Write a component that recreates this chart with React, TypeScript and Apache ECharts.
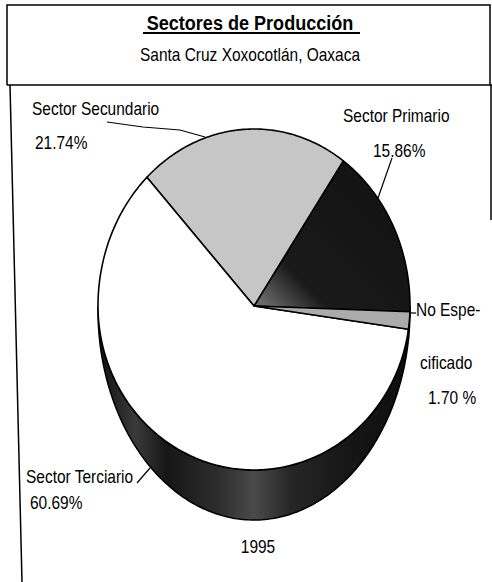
import React, { useEffect, useRef } from "react";
import * as echarts from "echarts";

// ---- data ----
const categories = ["Sector Primario", "Sector Secundario", "Sector Terciario", "No Especificado"];
const values = [15.86, 21.74, 60.69, 1.7];
const valueLabels = ["15.86%", "21.74%", "60.69%", "1.70 %"];
const nameLines = [["Sector Primario"], ["Sector Secundario"], ["Sector Terciario"], ["No Espe-", "cificado"]];
const yearLabel = "1995";
const titleText = "Sectores de Producción";
const subtitleText = "Santa Cruz Xoxocotlán, Oaxaca";

// ---- styles / layout ----
const FONT = "'Liberation Sans', Arial, sans-serif";
const NARROW = 0.86;
const CX = 254;
const CY = 306;
const RX = 156;
const RY_TOP = 177;
const RY_BOT = 164;
const SIDE_SHIFT = 4;
const SIDE_GROW = 46;
const START = -2;

const total = values.reduce((a, b) => a + b, 0);
const starts = values.map((_, i) => values.slice(0, i).reduce((a, b) => a + b, 0));

function pt(deg: number, bottom = false): number[] {
  const r = (deg * Math.PI) / 180;
  const s = Math.sin(r);
  if (bottom) return [CX + RX * Math.cos(r), CY + SIDE_SHIFT - (RY_BOT + SIDE_GROW) * s];
  return [CX + RX * Math.cos(r), CY - (s > 0 ? RY_TOP : RY_BOT) * s];
}
function arc(from: number, to: number, bottom: boolean): number[][] {
  const pts: number[][] = [];
  const n = Math.max(2, Math.ceil(Math.abs(to - from)));
  for (let k = 0; k <= n; k++) pts.push(pt(from + ((to - from) * k) / n, bottom));
  return pts;
}

// label layout (positions only)
const nameLayout: Record<number, { x: number; y: number; dy: number[] }> = {
  0: { x: 343, y: 116, dy: [0] },
  1: { x: 32, y: 109, dy: [0] },
  2: { x: 26, y: 477, dy: [0] },
  3: { x: 416, y: 310, dy: [0, 53] },
};
const valueLayout: Record<number, { x: number; y: number }> = {
  0: { x: 373, y: 151 },
  1: { x: 35, y: 143 },
  2: { x: 30, y: 503 },
  3: { x: 428, y: 398 },
};
const leaders: number[][][] = [
  [[392, 158], [378, 198]],
  [[107, 122], [143, 127], [180, 130], [205, 137]],
  [[137, 483], [150, 468]],
  [[409, 313], [416, 313]],
];

function txt(text: string, x: number, y: number, font: string, align: string) {
  return {
    type: "text",
    x,
    y,
    scaleX: NARROW,
    style: { text, font, fill: "#000", align, verticalAlign: "middle" },
  };
}

export default function App() {
  const ref = useRef<HTMLDivElement>(null);
  useEffect(() => {
    if (!ref.current) return;
    const chart = echarts.init(ref.current, null, { renderer: "svg" });
    const sideFill = new echarts.graphic.LinearGradient(
      98, 0, 410, 0,
      [
        { offset: 0, color: "#111111" },
        { offset: 0.12, color: "#3a3a3a" },
        { offset: 0.22, color: "#161616" },
        { offset: 0.38, color: "#2c2c2c" },
        { offset: 0.5, color: "#4a4a4a" },
        { offset: 0.62, color: "#262626" },
        { offset: 0.8, color: "#161616" },
        { offset: 1, color: "#0e0e0e" },
      ],
      true
    );
    const primFill = new echarts.graphic.LinearGradient(
      260, 300, 360, 200,
      [
        { offset: 0, color: "#6a6a6a" },
        { offset: 0.3, color: "#1a1a1a" },
        { offset: 1, color: "#141414" },
      ],
      true
    );
    const topColors: any[] = [primFill, "#c6c6c6", "#ffffff", "#ababab"];

    const graphics: any[] = [];
    const lineStyle = { stroke: "#000", lineWidth: 1.5 };
    graphics.push({ type: "polyline", shape: { points: [[7, 85], [7, 5], [490, 5], [490, 85]] }, style: { ...lineStyle, fill: null } });
    graphics.push({ type: "line", shape: { x1: 7, y1: 85, x2: 492, y2: 85 }, style: lineStyle });
    graphics.push({ type: "line", shape: { x1: 10, y1: 85, x2: 22, y2: 582 }, style: lineStyle });
    graphics.push({ type: "line", shape: { x1: 491, y1: 85, x2: 491, y2: 220 }, style: lineStyle });
    // title
    graphics.push(txt(titleText, 250, 22, `bold 21px ${FONT}`, "center"));
    graphics.push({ type: "line", shape: { x1: 143, y1: 33, x2: 360, y2: 33 }, style: { stroke: "#000", lineWidth: 2 } });
    graphics.push(txt(subtitleText, 250, 55, `18px ${FONT}`, "center"));
    // labels
    categories.forEach((_, i) => {
      const nl = nameLayout[i];
      nameLines[i].forEach((t, k) => {
        graphics.push(txt(t, nl.x + (k > 0 ? 4 : 0), nl.y + nl.dy[k], `18px ${FONT}`, "left"));
      });
      const vl = valueLayout[i];
      graphics.push(txt(valueLabels[i], vl.x, vl.y, `18px ${FONT}`, "left"));
      graphics.push({ type: "polyline", shape: { points: leaders[i] }, style: { stroke: "#000", lineWidth: 1.2, fill: null } });
    });
    graphics.push(txt(yearLabel, 258, 547, `18px ${FONT}`, "center"));

    chart.setOption({
      animation: false,
      backgroundColor: "#ffffff",
      graphic: graphics,
      series: [
        {
          type: "custom",
          coordinateSystem: "none",
          data: values.map((v, i) => ({ name: categories[i], value: [v] })),
          renderItem: (params: any, api: any) => {
            const i = params.dataIndex;
            const v = api.value(0) as number;
            let a0 = START + (starts[i] / total) * 360;
            let a1 = a0 + (v / total) * 360;
            if (a0 > 300) { a0 -= 360; a1 -= 360; }
            const children: any[] = [];
            // visible side: lower half, angles in [180,360] or [-180,0]
            const ranges: number[][] = [
              [Math.max(a0, 180), Math.min(a1, 360)],
              [Math.max(a0, -180), Math.min(a1, 0)],
            ];
            ranges.forEach(([s0, s1]) => {
              if (s1 > s0) {
                const top = arc(s0, s1, false);
                const bot = arc(s1, s0, true);
                children.push({
                  type: "polygon",
                  shape: { points: top.concat(bot) },
                  style: { fill: sideFill, stroke: "#000", lineWidth: 1.5 },
                });
              }
            });
            children.push({
              type: "polygon",
              shape: { points: [[CX, CY], ...arc(a0, a1, false)] },
              style: { fill: topColors[i], stroke: "#000", lineWidth: 1.6, lineJoin: "round" },
            });
            return { type: "group", children };
          },
        },
      ],
    });
    return () => chart.dispose();
  }, []);
  return (
    <div
      ref={ref}
      style={{ position: "fixed", left: 0, top: 0, width: 492, height: 582, background: "#fff" }}
    />
  );
}
